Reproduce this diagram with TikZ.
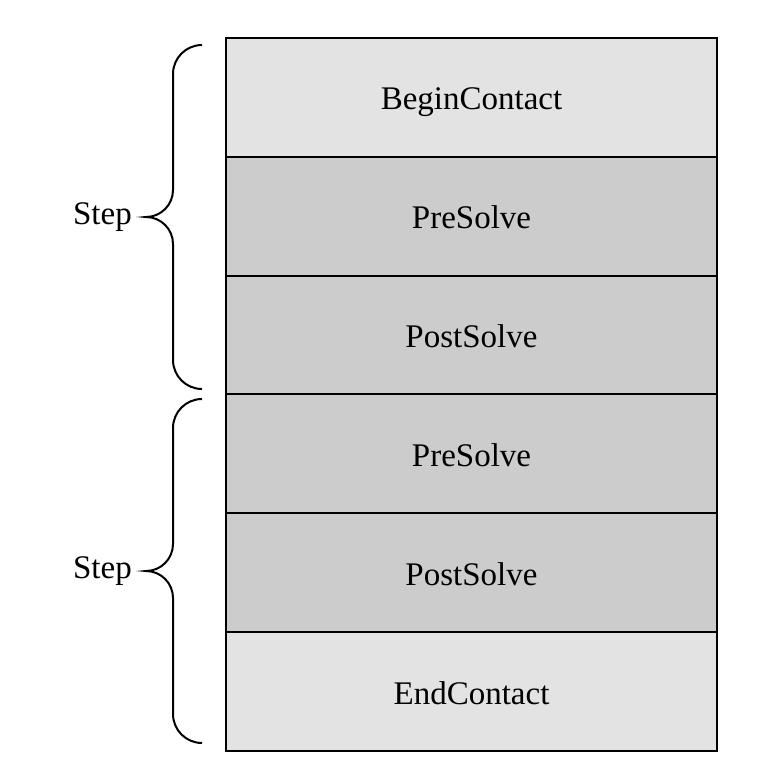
\documentclass[tikz,border=0pt]{standalone}
\usepackage{fontspec}
\setmainfont{Liberation Serif}
\usetikzlibrary{positioning}
\definecolor{lightcell}{HTML}{E3E3E3}
\definecolor{darkcell}{HTML}{CCCCCC}
\tikzset{
    cell/.style={draw, line width=2pt, outer sep=0pt, inner sep=0pt,
        minimum width=491pt, minimum height=118.83pt,
        text height=25pt, text depth=0pt,
        font=\fontsize{33}{40}\selectfont},
    startend/.style={cell, fill=lightcell},   % begin / end rows
    solve/.style={cell, fill=darkcell},       % pre / post solve rows
    stepbrace/.style={line width=2pt},
    steplabel/.style={inner sep=0pt, font=\fontsize{33}{40}\selectfont},
}

\begin{document}
\begin{tikzpicture}[x=1pt,y=1pt]
    \useasboundingbox (0,0) rectangle (756,-783);
    \pgfmathsetmacro{\bendr}{29}
    \pgfmathsetmacro{\tipr}{27}
    \pgfmathsetmacro{\braceline}{116}
    % the column of callbacks
    \node[startend, anchor=north west] (begin) at (226,-38) {BeginContact};
    \node[solve, below=0pt of begin] (pre1) {PreSolve};
    \node[solve, below=0pt of pre1] (post1) {PostSolve};
    \node[solve, below=0pt of post1] (pre2) {PreSolve};
    \node[solve, below=0pt of pre2] (post2) {PostSolve};
    \node[startend, below=0pt of post2] (endc) {EndContact};
    % braces
    \coordinate (top1) at (202,-45);
    \coordinate (top2) at (202,-399);
    \foreach \t/\n in {top1/1, top2/2} {
        \draw[stepbrace] (\t) arc[start angle=90, end angle=180, radius=\bendr]
            -- ++(0,-\braceline) arc[start angle=0, end angle=-90, radius=\tipr]
            coordinate (tip\n) arc[start angle=90, end angle=0, radius=\tipr]
            -- ++(0,-\braceline) arc[start angle=180, end angle=270, radius=\bendr];
    }
    \node[steplabel, left=14pt of tip1] (step1) {Step};
    \node[steplabel, left=14pt of tip2] (step2) {Step};
\end{tikzpicture}
\end{document}
